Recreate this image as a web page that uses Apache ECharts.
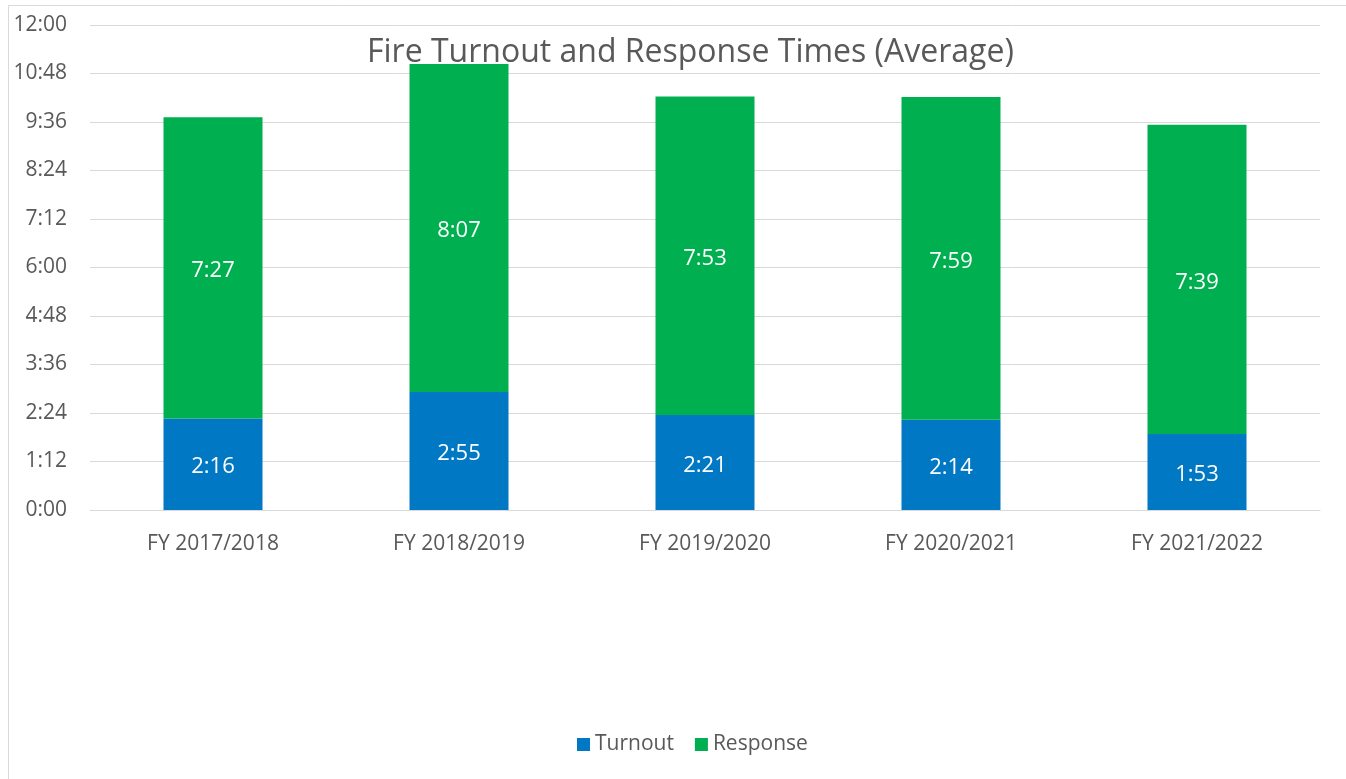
<!DOCTYPE html>
<html>
<head>
<meta charset="utf-8">
<script src="https://cdn.jsdelivr.net/npm/echarts@6/dist/echarts.min.js"></script>
<style>
  html, body { margin: 0; padding: 0; background: #fff; }
  #chart { width: 1346px; height: 779px; }
</style>
</head>
<body>
<div id="chart"></div>
<script>
// values are in seconds
var years = ['FY 2017/2018', 'FY 2018/2019', 'FY 2019/2020', 'FY 2020/2021', 'FY 2021/2022']
var turnout = [136, 175, 141, 134, 113]
var response = [447, 487, 473, 479, 459]
var yMax = 720
var yStep = 72

function mmss (s) {
  var m = Math.floor(s / 60)
  var sec = Math.round(s % 60)
  return m + ':' + (sec < 10 ? '0' : '') + sec
}

var chart = echarts.init(document.getElementById('chart'))
var font = 'Open Sans'
var option = {
  animation: false,
  textStyle: { fontFamily: font },
  title: {
    text: 'Fire Turnout and Response Times (Average)',
    left: 362,
    top: 32,
    textStyle: { fontFamily: font, fontSize: 32, fontWeight: 'normal', color: '#595959' }
  },
  graphic: [{
    type: 'rect',
    shape: { x: 8.5, y: 5.5, width: 1400, height: 800 },
    style: { fill: null, stroke: '#d9d9d9', lineWidth: 1 },
    silent: true
  }],
  legend: {
    bottom: 19,
    left: 572,
    itemWidth: 13,
    itemHeight: 13,
    itemGap: 21,
    icon: 'rect',
    textStyle: { fontSize: 21, color: '#595959', fontFamily: font }
  },
  grid: { left: 90, right: 26, top: 25, bottom: 269 },
  xAxis: {
    type: 'category',
    data: years,
    axisLine: { lineStyle: { color: '#d9d9d9', width: 1 } },
    axisTick: { show: false },
    axisLabel: { fontSize: 21, color: '#595959', margin: 24, fontFamily: font }
  },
  yAxis: {
    type: 'value',
    min: 0,
    max: yMax,
    interval: yStep,
    axisLine: { show: false },
    axisTick: { show: false },
    splitLine: { lineStyle: { color: '#d9d9d9', width: 1 } },
    axisLabel: {
      fontSize: 21, color: '#595959', margin: 23, fontFamily: font,
      formatter: function (v) { return mmss(v) }
    }
  },
  series: [
    {
      name: 'Turnout',
      type: 'bar',
      stack: 'total',
      data: turnout,
      barWidth: 99,
      itemStyle: { color: '#0078c4' },
      label: {
        show: true, position: 'inside', offset: [0, 3], color: '#fff', fontSize: 22, fontFamily: font,
        formatter: function (p) { return mmss(p.value) }
      }
    },
    {
      name: 'Response',
      type: 'bar',
      stack: 'total',
      data: response,
      barWidth: 99,
      itemStyle: { color: '#00b050' },
      label: {
        show: true, position: 'inside', offset: [0, 3], color: '#fff', fontSize: 22, fontFamily: font,
        formatter: function (p) { return mmss(p.value) }
      }
    }
  ]
}
chart.setOption(option)
</script>
</body>
</html>
